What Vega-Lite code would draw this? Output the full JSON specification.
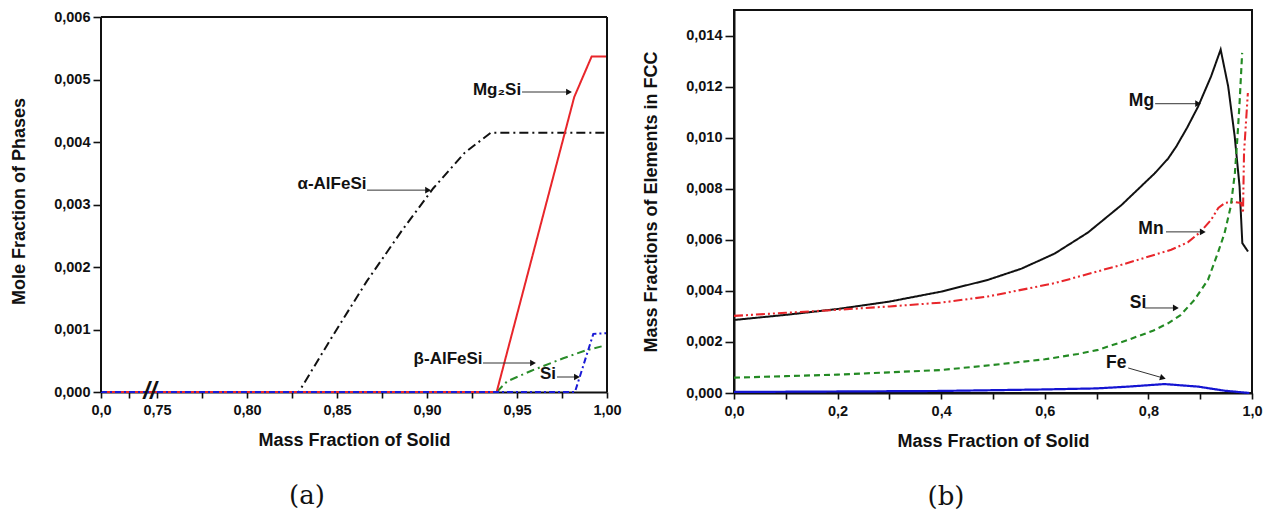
{
  "$schema": "https://vega.github.io/schema/vega-lite/v6.json",
  "background": "white",
  "padding": {"left": 10, "top": 9, "right": 5, "bottom": 5},
  "spacing": 19,
  "resolve": {"scale": {"color": "independent", "strokeDash": "independent", "strokeWidth": "independent"}},
  "config": {
    "font": "Liberation Sans",
    "view": {"stroke": null},
    "axis": {
      "labelFont": "Liberation Sans", "labelFontSize": 14.5, "labelFontWeight": "bold", "labelColor": "#111",
      "titleFont": "Liberation Sans", "titleFontSize": 18, "titleFontWeight": "bold", "titleColor": "#111",
      "tickColor": "#111", "domainColor": "#111", "domainWidth": 2, "tickWidth": 1.6, "grid": false,
      "labelOverlap": false, "labelFlush": false, "labelBound": false, "labelPadding": 3
    }
  },
  "datasets": {
    "phases": [
      {"series": "α-AlFeSi", "x": 0, "y": 0},
      {"series": "α-AlFeSi", "x": 0.8288, "y": 0},
      {"series": "α-AlFeSi", "x": 0.847, "y": 0.00087},
      {"series": "α-AlFeSi", "x": 0.8665, "y": 0.00177},
      {"series": "α-AlFeSi", "x": 0.886, "y": 0.00258},
      {"series": "α-AlFeSi", "x": 0.9035, "y": 0.00326},
      {"series": "α-AlFeSi", "x": 0.921, "y": 0.00383},
      {"series": "α-AlFeSi", "x": 0.9355, "y": 0.00415},
      {"series": "α-AlFeSi", "x": 1.0, "y": 0.00415},
      {"series": "β-AlFeSi", "x": 0, "y": 0},
      {"series": "β-AlFeSi", "x": 0.9387, "y": 0},
      {"series": "β-AlFeSi", "x": 0.9445, "y": 0.00017},
      {"series": "β-AlFeSi", "x": 0.958, "y": 0.00034},
      {"series": "β-AlFeSi", "x": 0.9757, "y": 0.00054},
      {"series": "β-AlFeSi", "x": 0.9887, "y": 0.00067},
      {"series": "β-AlFeSi", "x": 0.997, "y": 0.00073},
      {"series": "Mg2Si", "x": 0, "y": 0},
      {"series": "Mg2Si", "x": 0.9387, "y": 0},
      {"series": "Mg2Si", "x": 0.9818, "y": 0.00472},
      {"series": "Mg2Si", "x": 0.9915, "y": 0.00537},
      {"series": "Mg2Si", "x": 1.0, "y": 0.00537},
      {"series": "Si", "x": 0, "y": 0},
      {"series": "Si", "x": 0.9822, "y": 0},
      {"series": "Si", "x": 0.9924, "y": 0.00093},
      {"series": "Si", "x": 1.0, "y": 0.00094}
    ],
    "labelsA": [
      {"label": "Mg₂Si", "x": 0.9389, "y": 0.00483},
      {"label": "α-AlFeSi", "x": 0.8472, "y": 0.00333},
      {"label": "β-AlFeSi", "x": 0.9117, "y": 0.00053},
      {"label": "Si", "x": 0.9672, "y": 0.00029}
    ],
    "arrowsA": [
      {"x": 0.9528, "y": 0.0048, "x2": 0.9789, "y2": 0.0048},
      {"x": 0.8667, "y": 0.00323, "x2": 0.9006, "y2": 0.00323},
      {"x": 0.9311, "y": 0.000464, "x2": 0.9589, "y2": 0.000464},
      {"x": 0.9722, "y": 0.00024, "x2": 0.9833, "y2": 0.00024}
    ],
    "elements": [
      {"series": "Mg", "x": 0, "y": 0.00286},
      {"series": "Mg", "x": 0.1, "y": 0.00306},
      {"series": "Mg", "x": 0.2, "y": 0.00329},
      {"series": "Mg", "x": 0.3, "y": 0.00358},
      {"series": "Mg", "x": 0.4, "y": 0.00397},
      {"series": "Mg", "x": 0.49, "y": 0.00443},
      {"series": "Mg", "x": 0.555, "y": 0.00487},
      {"series": "Mg", "x": 0.619, "y": 0.00546},
      {"series": "Mg", "x": 0.683, "y": 0.00628},
      {"series": "Mg", "x": 0.748, "y": 0.00736},
      {"series": "Mg", "x": 0.812, "y": 0.00860},
      {"series": "Mg", "x": 0.838, "y": 0.00918},
      {"series": "Mg", "x": 0.854, "y": 0.00966},
      {"series": "Mg", "x": 0.875, "y": 0.01040},
      {"series": "Mg", "x": 0.896, "y": 0.01122},
      {"series": "Mg", "x": 0.921, "y": 0.0124},
      {"series": "Mg", "x": 0.9395, "y": 0.01345},
      {"series": "Mg", "x": 0.954, "y": 0.01201},
      {"series": "Mg", "x": 0.9666, "y": 0.01005},
      {"series": "Mg", "x": 0.976, "y": 0.00809},
      {"series": "Mg", "x": 0.9813, "y": 0.00587},
      {"series": "Mg", "x": 0.9923, "y": 0.00554},
      {"series": "Mn", "x": 0, "y": 0.00302},
      {"series": "Mn", "x": 0.1, "y": 0.00314},
      {"series": "Mn", "x": 0.2, "y": 0.00326},
      {"series": "Mn", "x": 0.3, "y": 0.00339},
      {"series": "Mn", "x": 0.4, "y": 0.00354},
      {"series": "Mn", "x": 0.49, "y": 0.00378},
      {"series": "Mn", "x": 0.619, "y": 0.0043},
      {"series": "Mn", "x": 0.748, "y": 0.00502},
      {"series": "Mn", "x": 0.844, "y": 0.00561},
      {"series": "Mn", "x": 0.876, "y": 0.00590},
      {"series": "Mn", "x": 0.9, "y": 0.0063},
      {"series": "Mn", "x": 0.921, "y": 0.00678},
      {"series": "Mn", "x": 0.935, "y": 0.00725},
      {"series": "Mn", "x": 0.948, "y": 0.00745},
      {"series": "Mn", "x": 0.965, "y": 0.00748},
      {"series": "Mn", "x": 0.979, "y": 0.00744},
      {"series": "Mn", "x": 0.9826, "y": 0.00705},
      {"series": "Mn", "x": 0.9846, "y": 0.0094},
      {"series": "Mn", "x": 0.992, "y": 0.01175},
      {"series": "Si", "x": 0, "y": 0.0006},
      {"series": "Si", "x": 0.1, "y": 0.00066},
      {"series": "Si", "x": 0.2, "y": 0.00072},
      {"series": "Si", "x": 0.3, "y": 0.00081},
      {"series": "Si", "x": 0.4, "y": 0.0009},
      {"series": "Si", "x": 0.5, "y": 0.0011},
      {"series": "Si", "x": 0.6, "y": 0.00132},
      {"series": "Si", "x": 0.664, "y": 0.00153},
      {"series": "Si", "x": 0.703, "y": 0.00169},
      {"series": "Si", "x": 0.761, "y": 0.00208},
      {"series": "Si", "x": 0.81, "y": 0.00245},
      {"series": "Si", "x": 0.838, "y": 0.00273},
      {"series": "Si", "x": 0.862, "y": 0.00305},
      {"series": "Si", "x": 0.889, "y": 0.00365},
      {"series": "Si", "x": 0.915, "y": 0.00443},
      {"series": "Si", "x": 0.934, "y": 0.00548},
      {"series": "Si", "x": 0.947, "y": 0.00626},
      {"series": "Si", "x": 0.959, "y": 0.00731},
      {"series": "Si", "x": 0.967, "y": 0.00862},
      {"series": "Si", "x": 0.972, "y": 0.01005},
      {"series": "Si", "x": 0.976, "y": 0.01136},
      {"series": "Si", "x": 0.981, "y": 0.01332},
      {"series": "Fe", "x": 0, "y": 0.00004},
      {"series": "Fe", "x": 0.2, "y": 0.00006},
      {"series": "Fe", "x": 0.4, "y": 0.00008},
      {"series": "Fe", "x": 0.6, "y": 0.00014},
      {"series": "Fe", "x": 0.7, "y": 0.00018},
      {"series": "Fe", "x": 0.761, "y": 0.00025},
      {"series": "Fe", "x": 0.831, "y": 0.00035},
      {"series": "Fe", "x": 0.896, "y": 0.00025},
      {"series": "Fe", "x": 0.947, "y": 0.00009},
      {"series": "Fe", "x": 0.995, "y": 0.0}
    ],
    "labelsB": [
      {"label": "Mg", "x": 0.7867, "y": 0.01145},
      {"label": "Mn", "x": 0.805, "y": 0.00643},
      {"label": "Si", "x": 0.78, "y": 0.00353},
      {"label": "Fe", "x": 0.738, "y": 0.00118}
    ],
    "arrowsB": [
      {"x": 0.813, "y": 0.01133, "x2": 0.896, "y2": 0.01133},
      {"x": 0.834, "y": 0.00631, "x2": 0.905, "y2": 0.00631},
      {"x": 0.793, "y": 0.00333, "x2": 0.853, "y2": 0.00333},
      {"x": 0.761, "y": 0.00098, "x2": 0.828, "y2": 0.00059}
    ],
    "one": [{}]
  },
  "hconcat": [
    {
      "width": 506,
      "height": 382,
      "view": {"stroke": null},
      "title": {"text": "(a)", "orient": "bottom", "anchor": "middle", "font": "DejaVu Serif", "fontSize": 26, "fontWeight": "normal", "color": "#111", "dx": -47, "offset": 33},
      "layer": [
        {
          "data": {"name": "phases"},
          "mark": {"type": "line", "strokeWidth": 2},
          "encoding": {
            "x": {
              "field": "x", "type": "quantitative",
              "scale": {"type": "linear", "domain": [0, 0.75, 1], "range": [0, 56, 506], "nice": false, "zero": false},
              "axis": {
                "title": "Mass Fraction of Solid", "titlePadding": 15,
                "values": [0, 0.375, 0.75, 0.775, 0.8, 0.825, 0.85, 0.875, 0.9, 0.925, 0.95, 0.975, 1.0],
                "labelExpr": "round(datum.value*400) % 20 == 0 ? (datum.value == 0 ? '0,0' : replace(format(datum.value, '.2f'), '.', ',')) : ''",
                "tickSize": 6,
                "encode": {"ticks": {"y2": {"condition": {"test": "round(datum.value*400) % 20 == 0", "value": 6}, "value": 3.5}}},
                "labelPadding": 5
              }
            },
            "y": {
              "field": "y", "type": "quantitative",
              "scale": {"domain": [0, 0.006112], "nice": false, "zero": true},
              "axis": {
                "title": "Mole Fraction of Phases", "titlePadding": 25, "domain": false,
                "values": [0, 0.0005, 0.001, 0.0015, 0.002, 0.0025, 0.003, 0.0035, 0.004, 0.0045, 0.005, 0.0055, 0.006],
                "labelExpr": "round(datum.value*2000) % 2 == 0 ? replace(format(datum.value, '.3f'), '.', ',') : ''",
                "tickSize": 8,
                "encode": {"ticks": {"x2": {"condition": {"test": "round(datum.value*2000) % 2 == 0", "value": -8}, "value": -4}}}
              }
            },
            "color": {
              "field": "series", "type": "nominal", "legend": null,
              "scale": {"domain": ["α-AlFeSi", "β-AlFeSi", "Mg2Si", "Si"], "range": ["#111111", "#2a8c2a", "#e8262b", "#1a1ad6"]}
            },
            "strokeDash": {
              "field": "series", "type": "nominal", "legend": null,
              "scale": {"domain": ["α-AlFeSi", "β-AlFeSi", "Mg2Si", "Si"], "range": [[9, 4, 2, 4], [8, 4, 2, 4], [1, 0], [6, 3, 2, 3]]}
            }
          }
        },
        {
          "data": {"name": "one"},
          "mark": {"type": "rule", "color": "#111", "strokeWidth": 2},
          "encoding": {"y": {"datum": 0.006, "type": "quantitative"}}
        },
        {
          "data": {"name": "one"},
          "mark": {"type": "rule", "color": "#111", "strokeWidth": 2},
          "encoding": {
            "x": {"datum": 1, "type": "quantitative"},
            "y": {"datum": 0, "type": "quantitative"},
            "y2": {"datum": 0.006}
          }
        },
        {
          "data": {"name": "one"},
          "mark": {"type": "rule", "color": "#111", "strokeWidth": 2},
          "encoding": {
            "x": {"datum": 0, "type": "quantitative"},
            "y": {"datum": 0, "type": "quantitative"},
            "y2": {"datum": 0.006}
          }
        },
        {
          "data": {"name": "one"},
          "mark": {"type": "text", "text": "//", "font": "Liberation Sans", "fontWeight": "bold", "fontStyle": "italic", "fontSize": 24, "align": "center", "baseline": "middle", "color": "#111"},
          "encoding": {
            "x": {"datum": 0.655, "type": "quantitative"},
            "y": {"datum": 0, "type": "quantitative"}
          }
        },
        {
          "data": {"name": "arrowsA"},
          "mark": {"type": "rule", "color": "#333", "strokeWidth": 1},
          "encoding": {
            "x": {"field": "x", "type": "quantitative"},
            "y": {"field": "y", "type": "quantitative"},
            "x2": {"field": "x2"},
            "y2": {"field": "y2"}
          }
        },
        {
          "data": {"name": "arrowsA"},
          "mark": {"type": "point", "shape": "triangle-right", "filled": true, "color": "#111", "size": 45, "opacity": 1},
          "encoding": {
            "x": {"field": "x2", "type": "quantitative"},
            "y": {"field": "y2", "type": "quantitative"}
          }
        },
        {
          "data": {"name": "labelsA"},
          "mark": {"type": "text", "font": "Liberation Sans", "fontWeight": "bold", "fontSize": 17, "align": "center", "baseline": "middle", "color": "#111"},
          "encoding": {
            "x": {"field": "x", "type": "quantitative"},
            "y": {"field": "y", "type": "quantitative"},
            "text": {"field": "label"}
          }
        }
      ]
    },
    {
      "width": 518,
      "height": 383,
      "view": {"stroke": "#111", "strokeWidth": 2},
      "title": {"text": "(b)", "orient": "bottom", "anchor": "middle", "font": "DejaVu Serif", "fontSize": 26, "fontWeight": "normal", "color": "#111", "dx": -47, "offset": 33},
      "layer": [
        {
          "data": {"name": "elements"},
          "mark": {"type": "line"},
          "encoding": {
            "x": {
              "field": "x", "type": "quantitative",
              "scale": {"domain": [0, 1], "nice": false, "zero": false},
              "axis": {
                "title": "Mass Fraction of Solid", "titlePadding": 15,
                "values": [0, 0.1, 0.2, 0.3, 0.4, 0.5, 0.6, 0.7, 0.8, 0.9, 1.0],
                "labelExpr": "round(datum.value*10) % 2 == 0 ? replace(format(datum.value, '.1f'), '.', ',') : ''",
                "tickSize": 6,
                "encode": {"ticks": {"y2": {"condition": {"test": "round(datum.value*10) % 2 == 0", "value": 6}, "value": 3.5}}},
                "labelPadding": 5
              }
            },
            "y": {
              "field": "y", "type": "quantitative",
              "scale": {"domain": [0, 0.015], "nice": false},
              "axis": {
                "title": "Mass Fractions of Elements in FCC", "titlePadding": 25,
                "values": [0, 0.001, 0.002, 0.003, 0.004, 0.005, 0.006, 0.007, 0.008, 0.009, 0.01, 0.011, 0.012, 0.013, 0.014],
                "labelExpr": "round(datum.value*1000) % 2 == 0 ? replace(format(datum.value, '.3f'), '.', ',') : ''",
                "tickSize": 9,
                "encode": {"ticks": {"x2": {"condition": {"test": "round(datum.value*1000) % 2 == 0", "value": -9}, "value": -5}}}
              }
            },
            "color": {
              "field": "series", "type": "nominal", "legend": null,
              "scale": {"domain": ["Mg", "Mn", "Si", "Fe"], "range": ["#111111", "#e8262b", "#238a23", "#1414d2"]}
            },
            "strokeDash": {
              "field": "series", "type": "nominal", "legend": null,
              "scale": {"domain": ["Mg", "Mn", "Si", "Fe"], "range": [[1, 0], [9, 3, 2, 3, 2, 3], [6, 4], [1, 0]]}
            },
            "strokeWidth": {
              "field": "series", "type": "nominal", "legend": null,
              "scale": {"domain": ["Mg", "Mn", "Si", "Fe"], "range": [2, 2.2, 2.5, 3]}
            }
          }
        },
        {
          "data": {"name": "arrowsB"},
          "mark": {"type": "rule", "color": "#333", "strokeWidth": 1},
          "encoding": {
            "x": {"field": "x", "type": "quantitative"},
            "y": {"field": "y", "type": "quantitative"},
            "x2": {"field": "x2"},
            "y2": {"field": "y2"}
          }
        },
        {
          "data": {"name": "arrowsB"},
          "mark": {"type": "point", "shape": "triangle-right", "filled": true, "color": "#111", "size": 45, "opacity": 1},
          "encoding": {
            "x": {"field": "x2", "type": "quantitative"},
            "y": {"field": "y2", "type": "quantitative"},
            "angle": {"condition": {"test": "datum.y != datum.y2", "value": 16}, "value": 0}
          }
        },
        {
          "data": {"name": "labelsB"},
          "mark": {"type": "text", "font": "Liberation Sans", "fontWeight": "bold", "fontSize": 17.5, "align": "center", "baseline": "middle", "color": "#111"},
          "encoding": {
            "x": {"field": "x", "type": "quantitative"},
            "y": {"field": "y", "type": "quantitative"},
            "text": {"field": "label"}
          }
        }
      ]
    }
  ]
}
